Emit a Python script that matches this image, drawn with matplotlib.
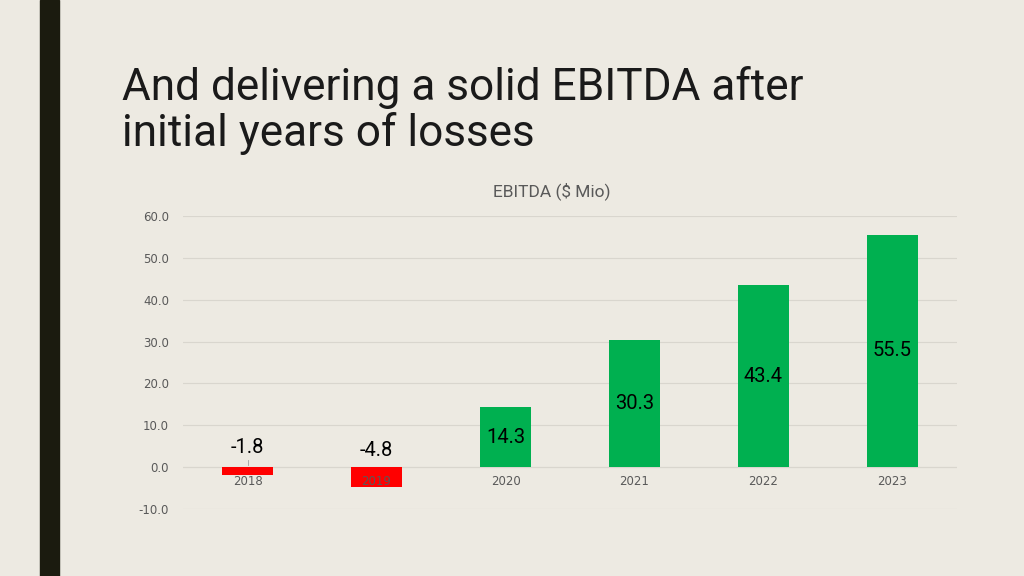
import matplotlib.pyplot as plt
from matplotlib.patches import Rectangle
from matplotlib.ticker import FormatStrFormatter

years = ["2018", "2019", "2020", "2021", "2022", "2023"]
ebitda = [-1.8, -4.8, 14.3, 30.3, 43.4, 55.5]
# label heights for the two negative bars (placed above the zero line)
neg_label_y = [4.6, 3.9]

bg = "#EDEAE2"
grey = "#595959"

fig = plt.figure(figsize=(10.24, 5.76), dpi=100, facecolor=bg)

# dark vertical stripe on the left of the slide
fig.patches.append(Rectangle((40 / 1024, 0), 19 / 1024, 1, transform=fig.transFigure,
                             color="#1B1B0F", zorder=0))

fig.text(122 / 1024, 1 - 66 / 576, "And delivering a solid EBITDA after\ninitial years of losses",
         fontsize=31.8, family="Roboto", color="#1a1a1a", va="top", ha="left",
         linespacing=1.1)

ax = fig.add_axes([183 / 1024, 1 - 509 / 576, 774 / 1024, 293 / 576])
ax.set_facecolor(bg)

colors = ["#FF0000" if v < 0 else "#00B050" for v in ebitda]
x = range(len(years))
bars = ax.bar(x, ebitda, width=0.4, color=colors, zorder=3)

for i, v in enumerate(ebitda):
    ypos = neg_label_y[i] if v < 0 else v / 2
    ax.text(i, ypos, f"{v:.1f}", ha="center", va="center", family="Roboto",
            fontsize=14.5, color="black", zorder=4)

# small leader line under the 2018 label
ax.plot([0, 0], [0.6, 1.6], color="#a0a0a0", lw=0.6, zorder=4)

# category labels sit under the zero line, drawn over the bars
for i, yr in enumerate(years):
    ax.annotate(yr, (i, 0), xytext=(0, -6), textcoords="offset points",
                ha="center", va="top", fontsize=8.5, color=grey, zorder=5)

ax.set_xlim(-0.5, 5.5)
ax.set_ylim(-10, 60)
ax.set_yticks(range(-10, 61, 10))
ax.yaxis.set_major_formatter(FormatStrFormatter("%.1f"))
ax.set_xticks([])

ax.grid(axis="y", color="#d9d6ce", lw=0.8, zorder=0)
for s in ["top", "right", "left", "bottom"]:
    ax.spines[s].set_visible(False)
ax.axhline(0, color="#d9d6ce", lw=0.8, zorder=1)
ax.tick_params(axis="y", length=0, labelsize=8.5, labelcolor=grey, pad=10)

fig.text(552 / 1024, 1 - 191 / 576, "EBITDA ($ Mio)", fontsize=12.5, family="Roboto",
         color=grey, ha="center", va="center")

fig.savefig("out.png", dpi=100, facecolor=bg)
